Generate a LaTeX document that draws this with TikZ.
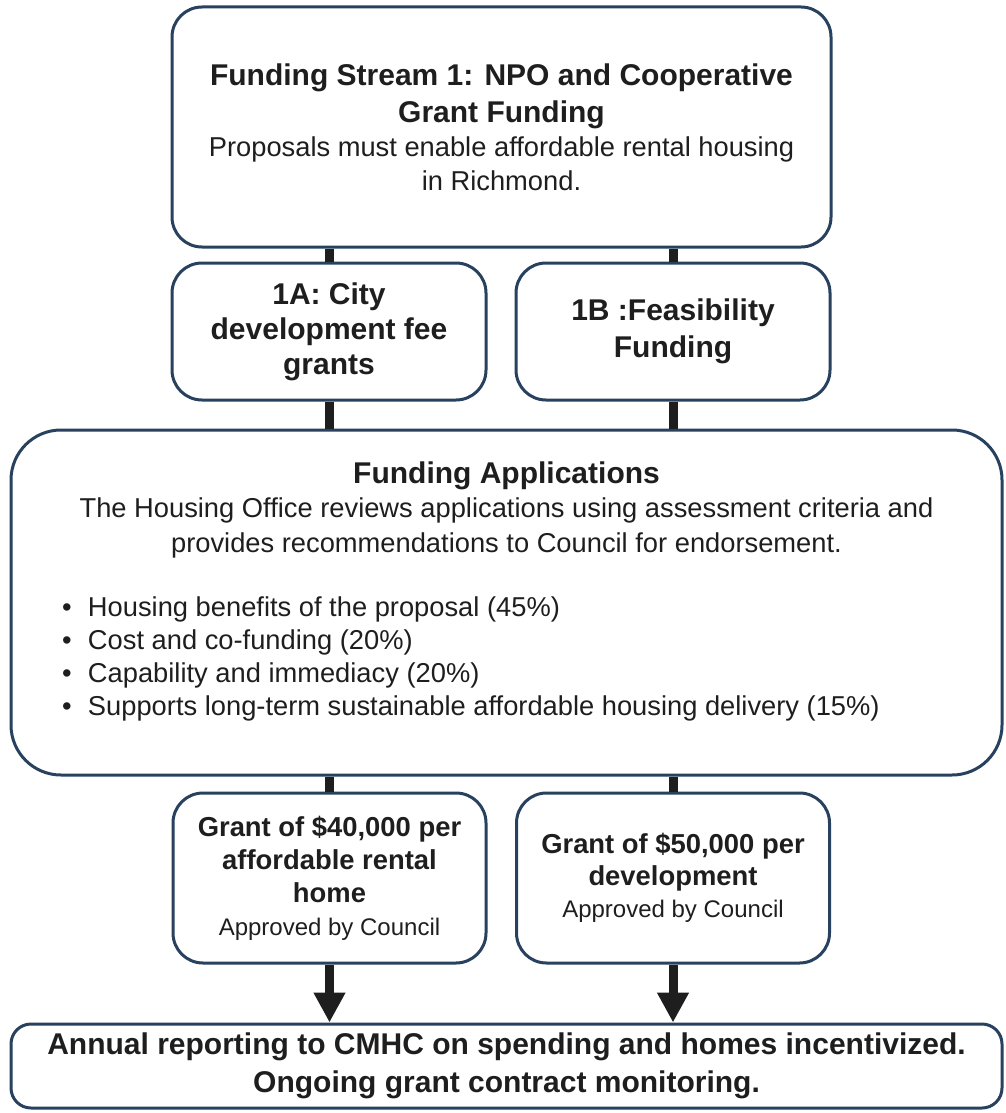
\documentclass[tikz,border=0pt]{standalone}
\usepackage{fontspec}
\setmainfont{Liberation Sans}
\usetikzlibrary{arrows.meta}

\definecolor{frame}{HTML}{27415E}
\definecolor{ink}{HTML}{1E1E1E}

\newcommand{\headfont}{\fontsize{30}{36}\selectfont\bfseries}
\newcommand{\bodyfont}{\fontsize{27.3}{34}\selectfont}
\newcommand{\grantfont}{\fontsize{27.4}{33}\selectfont\bfseries}
\newcommand{\notefont}{\fontsize{24}{32}\selectfont}
\newcommand{\dotitem}{\par\makebox[26pt][l]{\textbullet}}

\tikzset{
	card/.style={draw=frame, line width=3pt, rounded corners=30pt, align=center, inner sep=0pt, text=ink},
	stem/.style={draw=ink, line width=9pt},
	push/.style={stem, -{Triangle[width=30pt,length=30pt]}},
}

\begin{document}
\begin{tikzpicture}[x=1pt,y=-1pt]
	\useasboundingbox (0,0) rectangle (1005,1113);

	\node[card, minimum width=659pt, minimum height=240pt, font=\fontsize{27}{34}\selectfont] (stream) at (501.5,127)
		{{\headfont Funding Stream 1: NPO and Cooperative}\\[3pt]{\headfont Grant Funding}\\
		{\bodyfont Proposals must enable affordable rental housing}\\{\bodyfont in Richmond.}};
	\node[card, minimum width=314pt, minimum height=137pt, font=\fontsize{30}{35}\selectfont] (fee) at (329,331.5)
		{{\headfont 1A: City}\\{\headfont development fee}\\{\headfont grants}};
	\node[card, minimum width=314pt, minimum height=137pt, font=\fontsize{30}{37}\selectfont] (feas) at (673,331.5)
		{{\headfont 1B :Feasibility}\\{\headfont Funding}};
	\node[card, minimum width=991pt, minimum height=345pt, rounded corners=50pt, font=\fontsize{27}{34.5}\selectfont] (apps) at (506.5,602.5)
		{{\headfont Funding Applications}\\
		{\bodyfont The Housing Office reviews applications using assessment criteria and}\\
		{\bodyfont provides recommendations to Council for endorsement.}\\[38pt]
		\parbox{889pt}{\fontsize{27.3}{33}\selectfont\raggedright
			\dotitem Housing benefits of the proposal (45\%)
			\dotitem Cost and co-funding (20\%)
			\dotitem Capability and immediacy (20\%)
			\dotitem Supports long-term sustainable affordable housing delivery (15\%)}\\
		\rule{0pt}{21pt}};
	\node[card, minimum width=313pt, minimum height=170pt, font=\fontsize{27}{33}\selectfont] (grant40) at (329.5,878)
		{{\grantfont Grant of \$40,000 per}\\{\grantfont affordable rental}\\{\grantfont home}\\
		{\notefont Approved by Council}};
	\node[card, minimum width=313pt, minimum height=170pt, font=\fontsize{27}{32}\selectfont] (grant50) at (673,878)
		{{\grantfont Grant of \$50,000 per}\\{\grantfont development}\\{\notefont Approved by Council}};
	\node[card, minimum width=991pt, minimum height=84pt, rounded corners=20pt, font=\fontsize{30}{38}\selectfont] (report) at (506.5,1066)
		{{\headfont Annual reporting to CMHC on spending and homes incentivized.}\\
		{\headfont Ongoing grant contract monitoring.}};

	\draw[stem] (fee.north |- stream.south) -- (fee.north);
	\draw[stem] (feas.north |- stream.south) -- (feas.north);
	\draw[stem] (fee.south) -- (fee.south |- apps.north);
	\draw[stem] (feas.south) -- (feas.south |- apps.north);
	\draw[stem] (grant40.north |- apps.south) -- (grant40.north);
	\draw[stem] (grant50.north |- apps.south) -- (grant50.north);
	\draw[push] (grant40.south) -- (grant40.south |- report.north);
	\draw[push] (grant50.south) -- (grant50.south |- report.north);
\end{tikzpicture}
\end{document}
